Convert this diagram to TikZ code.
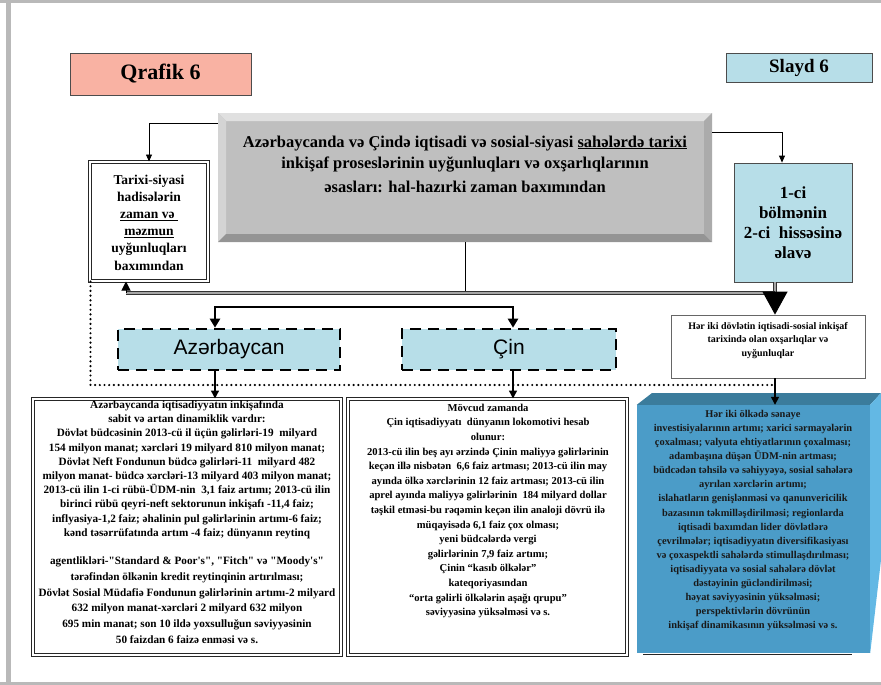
\documentclass[tikz,border=0pt]{standalone}
\usepackage{fontspec}
\setmainfont{Liberation Serif}[Ligatures=TeXOff]
\newfontfamily\sansf{Liberation Sans}
\usetikzlibrary{arrows.meta}
\definecolor{lblue}{HTML}{B7DEE8}
\definecolor{salmon}{HTML}{F9B2A3}
\definecolor{bfront}{HTML}{4B9CC8}
\definecolor{btop}{HTML}{3B7C9C}
\definecolor{bside}{HTML}{63B8E4}
\definecolor{framegray}{HTML}{B9B9B9}
\newcommand\setfs[2]{\fontsize{#1}{#2}\selectfont}
\begin{document}
\begin{tikzpicture}[x=1pt,y=-1pt,
  lab/.style={draw=black!70, line width=0.8pt, inner sep=0pt, font=\bfseries},
  txt/.style={inner sep=0pt, anchor=base, font=\bfseries},
  conn/.style={line width=0.8pt, draw=black},
  tip/.style={-{Triangle[length=7pt,width=6pt]}},
  dashbox/.style={draw=black, line width=2.6pt, dash pattern=on 11pt off 7pt, fill=lblue,
     inner sep=0pt, minimum width=222pt, minimum height=41pt, font=\sansf\setfs{21}{24}},
  dblbox/.style={draw=black!85, double=white, double distance=1.2pt, line width=1pt, inner sep=0pt},
  dbl/.style={draw=black!80, double=black!35, double distance=1.3pt, line width=0.9pt},
  dotl/.style={line width=2.4pt, dash pattern=on 0pt off 4.7pt, line cap=round},
]
\useasboundingbox (0,0) rectangle (881,685);
% outer frame
\fill[framegray] (5.6,0) rectangle (11,685);
\fill[framegray] (0,0) rectangle (881,3.3);
\fill[framegray] (0,681.5) rectangle (881,685);

% header labels
\node[lab, fill=salmon, minimum width=181pt, minimum height=42pt, font=\bfseries\setfs{22}{25}] (qrafik) at (160.5,74) {Qrafik 6};
\node[lab, fill=lblue, minimum width=146pt, minimum height=29pt, font=\bfseries\setfs{19}{22}] (slayd) at (799,67.5) {Slayd 6};

% bevelled title box
\fill[black!25] (218,113) rectangle (712,242);
\fill[black!12] (218,113) -- (712,113) -- (704,121) -- (226,121) -- cycle;
\fill[black!17] (218,113) -- (226,121) -- (226,234) -- (218,242) -- cycle;
\fill[black!42] (218,242) -- (226,234) -- (704,234) -- (712,242) -- cycle;
\fill[black!33] (712,113) -- (712,242) -- (704,234) -- (704,121) -- cycle;
\node[minimum width=494pt, minimum height=129pt, inner sep=0pt] (title) at (465,177.5) {};
\node[txt, font=\bfseries\setfs{16.5}{19}] (t1) at (465,147) {Azərbaycanda və Çində iqtisadi və sosial-siyasi \underline{sahələrdə tarixi}};
\node[txt, font=\bfseries\setfs{16.5}{19}] (t2) at (465,168) {inkişaf proseslərinin uyğunluqları və oxşarlıqlarının};
\node[txt, font=\bfseries\setfs{16.5}{19}] (t3) at (465,192) {əsasları: hal-hazırki zaman baxımından};

% left box
\node[dblbox, minimum width=118pt, minimum height=119pt] (tarixi) at (149,221.5) {};
\foreach \t [count=\i] in {Tarixi-siyasi, hadisələrin, \underline{zaman və }, \underline{məzmun}, uyğunluqları, baxımından}
  {\node[txt, font=\bfseries\setfs{13.5}{16}] (tx\i) at (149,{184+17.2*(\i-1)}) {\t};}

% right box
\node[lab, fill=lblue, minimum width=118pt, minimum height=119pt] (onebox) at (793,222.5) {};
\foreach \t [count=\i] in {1-ci, bölmənin, 2-ci\ \ hissəsinə, əlavə}
  {\node[txt, font=\bfseries\setfs{17}{20}] (ox\i) at (793,{198+20*(\i-1)}) {\t};}

% country boxes
\node[dashbox] (azr) at (229,349.5) {Azərbaycan};
\node[dashbox, minimum width=214pt] (cin) at (509,349.5) {Çin};

% small right box
\node[lab, fill=white, draw=black!60, minimum width=194pt, minimum height=63pt] (heriki) at (768,346.5) {};
\foreach \t [count=\i] in {Hər iki dövlətin iqtisadi-sosial inkişaf, tarixində olan oxşarlıqlar və, uyğunluqlar}
  {\node[txt, font=\bfseries\setfs{10}{12}] (hx\i) at (768,{329+13.5*(\i-1)}) {\t};}

% bottom boxes
\node[dblbox, minimum width=308pt, minimum height=256pt] (azbox) at (187,527) {};
\node[dblbox, minimum width=279pt, minimum height=256pt] (cinbox) at (487.5,527) {};
\node[fill=bfront, minimum width=233pt, minimum height=248pt, inner sep=0pt] (bluebox) at (753.5,529) {};
\fill[btop] (bluebox.north west) -- (652,393) -- (881,393) -- (bluebox.north east) -- cycle;
\fill[bside] (bluebox.north east) -- (881,393) -- (881,560) -- (bluebox.south east) -- cycle;
\draw[line width=1.6pt, black!85] (643,654.5) -- (852,654.5);

\foreach \t [count=\i] in {
 Azərbaycanda iqtisadiyyatın inkişafında,
 sabit və artan dinamiklik vardır:,
 Dövlət büdcəsinin 2013-cü il üçün gəlirləri-19\ \ milyard,
 154 milyon manat; xərcləri 19 milyard 810 milyon manat;,
 Dövlət Neft Fondunun büdcə gəlirləri-11\ \ milyard 482,
 milyon manat- büdcə xərcləri-13\ milyard 403 milyon manat;,
 {2013-cü ilin 1-ci rübü-ÜDM-nin\ \ 3,1 faiz artımı; 2013-cü ilin},
 {birinci rübü qeyri-neft sektorunun inkişafı -11,4 faiz;},
 {inflyasiya-1,2 faiz; əhalinin pul gəlirlərinin\ artımı-6 faiz;},
 {kənd təsərrüfatında artım -4 faiz; dünyanın reytinq}}
  {\node[txt, font=\bfseries\setfs{11.2}{13}] (aza\i) at (187,{408.5+14.2*(\i-1)}) {\t};}
\foreach \t [count=\i] in {
 {agentlikləri-"Standard \& Poor's", "Fitch"\ və "Moody's"},
 tərəfindən ölkənin kredit reytinqinin\ artırılması;,
 Dövlət Sosial Müdafiə Fondunun gəlirlərinin\ artımı-2 milyard,
 632 milyon manat-xərcləri 2 milyard 632 milyon,
 695 min manat; son 10 ildə\ yoxsulluğun səviyyəsinin,
 50 faizdan 6 faizə enməsi və s.}
  {\node[txt, font=\bfseries\setfs{11.2}{13}] (azb\i) at (187,{564.5+15.8*(\i-1)}) {\t};}

\foreach \t [count=\i] in {
 Mövcud zamanda,
 Çin iqtisadiyyatı\ \ dünyanın lokomotivi hesab,
 olunur:,
 2013-cü ilin beş ayı ərzində Çinin maliyyə gəlirlərinin,
 {keçən illə nisbətən\ \ 6,6 faiz artması; 2013-cü ilin may},
 ayında ölkə xərclərinin 12 faiz artması; 2013-cü ilin,
 aprel ayında maliyyə gəlirlərinin\ \ 184 milyard dollar,
 təşkil etməsi-bu rəqəmin keçən ilin\ analoji dövrü ilə,
 {müqayisədə 6,1\ faiz çox olması;},
 yeni büdcələrdə vergi,
 {gəlirlərinin\ 7,9 faiz artımı;},
 Çinin\ “kasıb ölkələr”,
 kateqoriyasından,
 “orta gəlirli ölkələrin aşağı qrupu”,
 səviyyəsinə yüksəlməsi və s.}
  {\node[txt, font=\bfseries\setfs{10.6}{13}] (cn\i) at (488,{411.3+14.6*(\i-1)}) {\t};}

\foreach \t [count=\i] in {
 Hər iki ölkədə sənaye,
 investisiyalarının artımı;\ xarici sərmayələrin,
 çoxalması; valyuta ehtiyatlarının\ çoxalması;,
 adambaşına düşən\ ÜDM-nin artması;,
 {büdcədən təhsilə və səhiyyəyə,\ sosial\ sahələrə},
 ayrılan xərclərin artımı;,
 islahatların genişlənməsi və qanunvericilik,
 bazasının təkmilləşdirilməsi;\ regionlarda,
 iqtisadi baxımdan lider dövlətlərə,
 çevrilmələr;\ iqtisadiyyatın diversifikasiyası,
 və çoxaspektli sahələrdə\ stimullaşdırılması;,
 iqtisadiyyata və sosial sahələrə dövlət,
 dəstəyinin gücləndirilməsi;,
 həyat səviyyəsinin yüksəlməsi;,
 perspektivlərin dövrünün,
 inkişaf dinamikasının yüksəlməsi\ və s.}
  {\node[txt, font=\bfseries\setfs{10.4}{13}, text=black!90] (bx\i) at (753,{417.3+14.1*(\i-1)}) {\t};}

% connectors
\coordinate (jn) at (775,293);
\coordinate (jl) at (126,293);
\coordinate (dc) at (775,385);
\draw[conn, tip] (title.north west) ++(0,11) -| (tarixi.north);
\draw[conn, tip] (title.north east) ++(0,20) -| ([xshift=-11pt]onebox.north);
\draw[conn] (title.south) -- (title.south |- jn);
\draw[dotl] ([xshift=1pt]tarixi.south west) |- (dc);
\draw[dbl, line width=1.2pt, double distance=2.4pt] (onebox.south -| jn) -- (jn);
\draw[dbl] (jn) -- (jl);
\draw[line width=1pt, -{Triangle[length=9pt,width=9pt]}] (jl) -- (tarixi.south -| jl);
\draw[line width=1pt, -{Triangle[length=23pt,width=25pt]}] (jn) -- (heriki.north -| jn);
\draw[line width=2.4pt, {Triangle[length=9pt,width=10pt]}-{Triangle[length=9pt,width=10pt]}]
  ([xshift=-14pt]azr.north) -- ++(0,-21) -| ([xshift=4pt]cin.north);
\coordinate (a1) at ([xshift=-14pt]azr.south);
\coordinate (c1) at ([xshift=4pt]cin.south);
\draw[line width=1.4pt, -{Triangle[length=8pt,width=8pt]}] (a1) -- (a1 |- azbox.north);
\draw[line width=1.4pt, -{Triangle[length=8pt,width=8pt]}] (c1) -- (c1 |- cinbox.north);
\draw[line width=1.4pt, -{Triangle[length=8pt,width=8pt]}] (heriki.south -| jn) -- (bluebox.north -| jn);
\end{tikzpicture}
\end{document}
